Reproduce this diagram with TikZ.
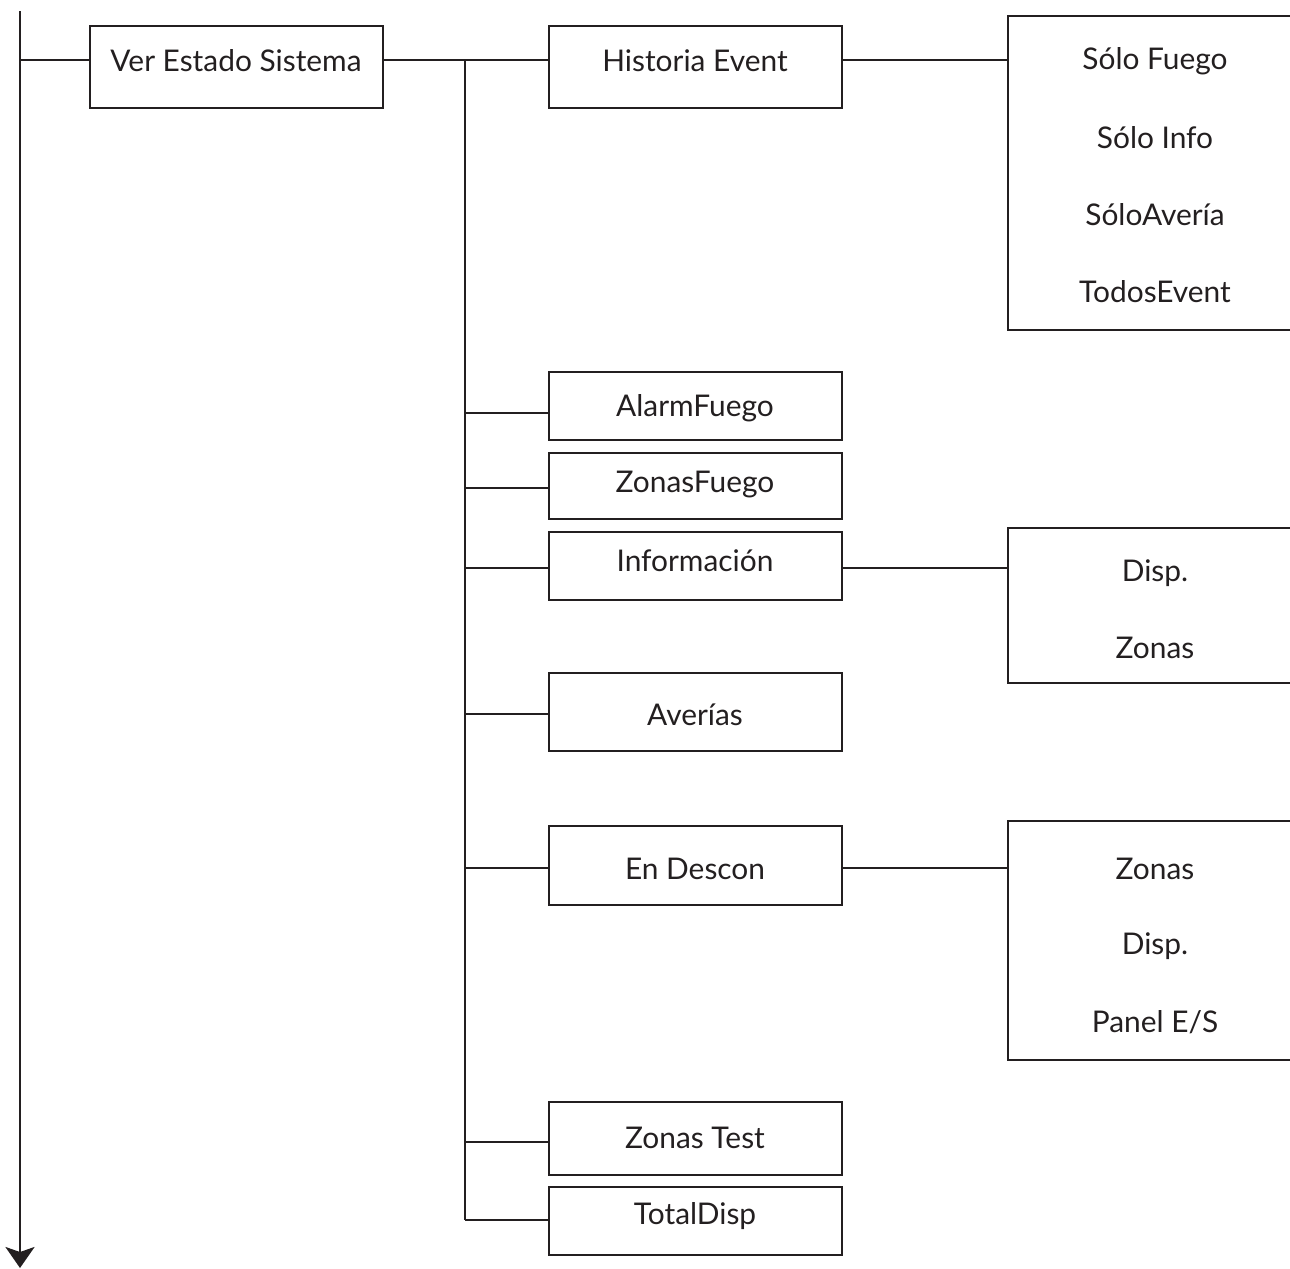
\documentclass[tikz,border=0pt]{standalone}
\usepackage{fontspec}
\setmainfont{Lato}
\usetikzlibrary{arrows.meta,fit}
\definecolor{ink}{HTML}{231F20}

\tikzset{
  menu/.style={draw=ink, line width=1.6pt, inner sep=0pt},
  wire/.style={draw=ink, line width=1.6pt},
  flow/.style={draw=ink, line width=1.6pt, -{Stealth[length=0.42cm, width=0.58cm, inset=0.1cm]}},
  lbl/.style={text=ink, inner sep=0pt, font=\fontsize{17}{20}\selectfont}
}

\begin{document}
\begin{tikzpicture}[x=0.02cm, y=-0.02cm]
  \clip (0,0) rectangle (1290,1268);

  %%% main flow line
  \draw[flow] (20,11) -- (20,1268);
  \coordinate (m0) at (20,60);

  %%% first level
  \node[menu, fit={(90,26) (383,108)}] (ves) {};
  \node[lbl] (ves-t) at (236,61) {Ver Estado Sistema};
  \draw[wire] (m0) -- (m0 -| ves.west);

  %%% branch points on the bus
  \coordinate (j1) at (465,60);
  \coordinate (j2) at (465,413);
  \coordinate (j3) at (465,488);
  \coordinate (j4) at (465,568);
  \coordinate (j5) at (465,714);
  \coordinate (j6) at (465,868);
  \coordinate (j7) at (465,1142);
  \coordinate (j8) at (465,1220);

  \draw[wire] (m0 -| ves.east) -- (j1);
  \draw[wire] (j1) -- (j8);

  %%% second level
  \node[menu, fit={(549,26) (842,108)}] (hist) {};
  \node[lbl] (hist-t) at (695,61) {Historia Event};
  \node[menu, fit={(549,372) (842,440)}] (alarm) {};
  \node[lbl] (alarm-t) at (695,408) {AlarmFuego};
  \node[menu, fit={(549,453) (842,519)}] (zfuego) {};
  \node[lbl] (zfuego-t) at (695,485) {ZonasFuego};
  \node[menu, fit={(549,532) (842,600)}] (info) {};
  \node[lbl] (info-t) at (695,561) {Información};
  \node[menu, fit={(549,673) (842,751)}] (aver) {};
  \node[lbl] (aver-t) at (695,715) {Averías};
  \node[menu, fit={(549,826) (842,905)}] (desc) {};
  \node[lbl] (desc-t) at (695,869) {En Descon};
  \node[menu, fit={(549,1102) (842,1175)}] (ztest) {};
  \node[lbl] (ztest-t) at (695,1138) {Zonas Test};
  \node[menu, fit={(549,1187) (842,1255)}] (total) {};
  \node[lbl] (total-t) at (695,1216) {TotalDisp};

  \draw[wire] (j1) -- (j1 -| hist.west);
  \draw[wire] (j2) -- (j2 -| alarm.west);
  \draw[wire] (j3) -- (j3 -| zfuego.west);
  \draw[wire] (j4) -- (j4 -| info.west);
  \draw[wire] (j5) -- (j5 -| aver.west);
  \draw[wire] (j6) -- (j6 -| desc.west);
  \draw[wire] (j7) -- (j7 -| ztest.west);
  \draw[wire] (j8) -- (j8 -| total.west);

  %%% third level (runs off the right edge)
  \node[menu, fit={(1008,16) (1320,330)}] (hsub) {};
  \node[lbl] (hsub-1) at (1155,61) {Sólo Fuego};
  \node[lbl] (hsub-2) at (1155,138) {Sólo Info};
  \node[lbl] (hsub-3) at (1155,215) {SóloAvería};
  \node[lbl] (hsub-4) at (1155,292) {TodosEvent};
  \draw[wire] (j1 -| hist.east) -- (j1 -| hsub.west);

  \node[menu, fit={(1008,528) (1320,683)}] (isub) {};
  \node[lbl] (isub-1) at (1155,573) {Disp.};
  \node[lbl] (isub-2) at (1155,648) {Zonas};
  \draw[wire] (j4 -| info.east) -- (j4 -| isub.west);

  \node[menu, fit={(1008,821) (1320,1060)}] (dsub) {};
  \node[lbl] (dsub-1) at (1155,869) {Zonas};
  \node[lbl] (dsub-2) at (1155,946) {Disp.};
  \node[lbl] (dsub-3) at (1155,1022) {Panel E/S};
  \draw[wire] (j6 -| desc.east) -- (j6 -| dsub.west);
\end{tikzpicture}
\end{document}
